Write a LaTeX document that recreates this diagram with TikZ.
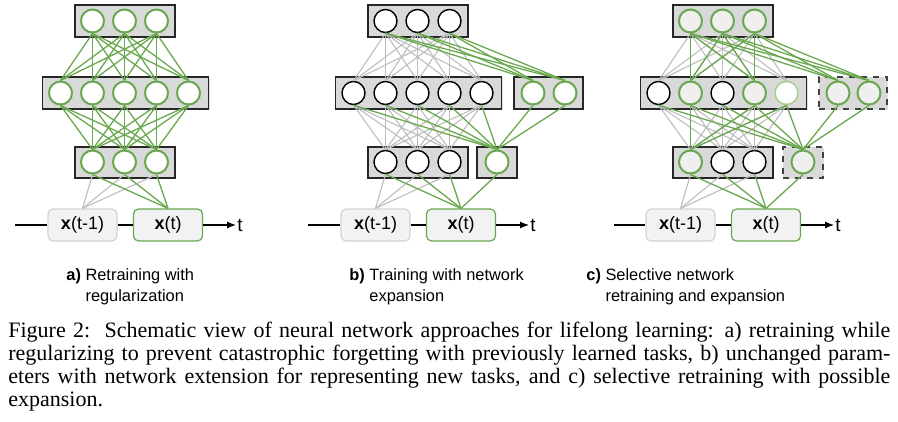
\documentclass[tikz,border=0pt]{standalone}
\usepackage{fontspec}
\setmainfont{Liberation Serif}
\newfontfamily\arialf{Liberation Sans}
\usetikzlibrary{arrows.meta,shadows}
\definecolor{grn}{HTML}{6AA84F}
\definecolor{lgrn}{HTML}{A9D18E}
\definecolor{boxgray}{HTML}{D9D9D9}
\definecolor{edgegray}{HTML}{BDBDBD}
\definecolor{infill}{HTML}{F2F2F2}
\definecolor{indraw}{HTML}{D4D4D4}
\definecolor{neufill}{HTML}{EFEFEF}
\begin{document}
\begin{tikzpicture}[x=0.5pt,y=-0.5pt,
  layerbox/.style={rectangle, draw=black!85, fill=boxgray, line width=0.6pt, inner sep=0pt,
    drop shadow={opacity=0.25, shadow xshift=0.7pt, shadow yshift=-0.7pt}},
  newbox/.style={layerbox, dashed, draw=black!75},
  neuron/.style={circle, minimum size=11.5pt, inner sep=0pt, fill=white},
  gneu/.style={neuron, draw=grn, line width=1pt},
  gneuf/.style={neuron, draw=grn, line width=1pt, fill=neufill},
  lneu/.style={neuron, draw=lgrn, line width=0.8pt},
  bneu/.style={neuron, draw=black, line width=0.7pt},
  gline/.style={draw=grn, line width=0.65pt},
  yline/.style={draw=edgegray, line width=0.55pt},
  inbox/.style={rectangle, rounded corners=2.5pt, minimum width=34.5pt, minimum height=16pt,
    fill=infill, draw=indraw, line width=0.6pt, font=\arialf\fontsize{9}{11}\selectfont, inner sep=0pt},
  tline/.style={draw=black, line width=0.6pt},
  tlab/.style={font=\arialf\fontsize{9.5}{11}\selectfont, inner sep=0.5pt, anchor=west},
  panlab/.style={font=\arialf\fontsize{8.2}{10.5}\selectfont, inner sep=0pt, anchor=north west}
]
\useasboundingbox (0,0) rectangle (898,422);

% ================= panel a =================
\begin{scope}
\node[layerbox, minimum width=50pt, minimum height=16pt] (a-topbox) at (125,21) {};
\node[layerbox, minimum width=83pt, minimum height=16pt] (a-midbox) at (125.5,93) {};
\node[layerbox, minimum width=50pt, minimum height=15.5pt] (a-botbox) at (125,162.5) {};
\foreach \i/\x in {1/92.5,2/124.5,3/156.5} {
  \node[gneu] (a-T\i) at (\x,21) {};
  \node[gneu] (a-B\i) at (\x,162) {};
}
\foreach \j in {1,...,5} \node[gneu] (a-M\j) at ({28.5+32*\j},93) {};
\node[inbox] (a-xp) at (82.5,225) {\textbf{x}(t-1)};
\node[inbox, draw=grn] (a-xc) at (168,225) {\textbf{x}(t)};
\coordinate (a-start) at (15,225);
\node[tlab] (a-t) at (236,225) {t};
\draw[tline] (a-start) -- (a-xp);
\draw[tline] (a-xp) -- (a-xc);
\draw[tline, -{Latex[length=4.5pt,width=3.5pt]}] (a-xc) -- (a-t);
\foreach \k in {1,2,3} \draw[yline] (a-xp.north) -- (a-B\k.south);
\foreach \k in {1,2,3} \draw[gline] (a-xc.north) -- (a-B\k.south);
\foreach \i in {1,2,3} \foreach \j in {1,...,5} {
  \draw[gline] (a-T\i.south) -- (a-M\j.north);
  \draw[gline] (a-M\j.south) -- (a-B\i.north);
}
\end{scope}

% ================= panel b =================
\begin{scope}[xshift=146.5pt]
\node[layerbox, minimum width=50pt, minimum height=16pt] (b-topbox) at (125,21) {};
\node[layerbox, minimum width=83pt, minimum height=16pt] (b-midbox) at (125.5,93) {};
\node[layerbox, minimum width=34.5pt, minimum height=16pt] (b-newmidbox) at (255.5,93) {};
\node[layerbox, minimum width=50pt, minimum height=15.5pt] (b-botbox) at (125,162.5) {};
\node[layerbox, minimum width=20pt, minimum height=15.5pt] (b-newbotbox) at (204,162.5) {};
\foreach \i/\x in {1/92.5,2/124.5,3/156.5} {
  \node[bneu] (b-T\i) at (\x,21) {};
  \node[bneu] (b-B\i) at (\x,162) {};
}
\foreach \j in {1,...,5} \node[bneu] (b-M\j) at ({28.5+32*\j},93) {};
\node[gneu] (b-N1) at (240,93) {};
\node[gneu] (b-N2) at (272,93) {};
\node[gneu] (b-NB) at (204,162) {};
\node[inbox] (b-xp) at (82.5,225) {\textbf{x}(t-1)};
\node[inbox, draw=grn] (b-xc) at (168,225) {\textbf{x}(t)};
\coordinate (b-start) at (15,225);
\node[tlab] (b-t) at (236,225) {t};
\draw[tline] (b-start) -- (b-xp);
\draw[tline] (b-xp) -- (b-xc);
\draw[tline, -{Latex[length=4.5pt,width=3.5pt]}] (b-xc) -- (b-t);
\foreach \i in {1,2,3} \foreach \j in {1,...,5} {
  \draw[yline] (b-T\i.south) -- (b-M\j.north);
  \draw[yline] (b-M\j.south) -- (b-B\i.north);
}
\foreach \k in {1,2,3} \draw[yline] (b-xp.north) -- (b-B\k.south);
\foreach \k in {1,2,3} \draw[gline] (b-xc.north) -- (b-B\k.south);
\draw[gline] (b-xc.north) -- (b-NB.south);
\foreach \i in {1,2,3} \foreach \n in {1,2} \draw[gline] (b-T\i.south) -- (b-N\n.north);
\foreach \j in {1,...,5} \draw[gline] (b-M\j.south) -- (b-NB.north);
\foreach \n in {1,2} \draw[gline] (b-N\n.south) -- (b-NB.north);
\end{scope}

% ================= panel c =================
\begin{scope}[xshift=299pt]
\node[layerbox, minimum width=50pt, minimum height=16pt] (c-topbox) at (125,21) {};
\node[layerbox, minimum width=83pt, minimum height=16pt] (c-midbox) at (125.5,93) {};
\node[newbox, minimum width=34pt, minimum height=16pt] (c-newmidbox) at (255,93) {};
\node[layerbox, minimum width=50pt, minimum height=15.5pt] (c-botbox) at (125,162.5) {};
\node[newbox, minimum width=20pt, minimum height=15.5pt] (c-newbotbox) at (205,162.5) {};
\foreach \i/\x in {1/92.5,2/124.5,3/156.5} \node[gneuf] (c-T\i) at (\x,21) {};
\node[gneuf] (c-B1) at (92.5,162) {};
\node[bneu] (c-B2) at (124.5,162) {};
\node[bneu] (c-B3) at (156.5,162) {};
\node[bneu] (c-M1) at (60.5,93) {};
\node[gneuf] (c-M2) at (92.5,93) {};
\node[bneu] (c-M3) at (124.5,93) {};
\node[gneuf] (c-M4) at (156.5,93) {};
\node[lneu] (c-M5) at (188.5,93) {};
\node[gneuf] (c-N1) at (240,93) {};
\node[gneuf] (c-N2) at (271,93) {};
\node[gneuf] (c-NB) at (205,162) {};
\node[inbox] (c-xp) at (82.5,225) {\textbf{x}(t-1)};
\node[inbox, draw=grn] (c-xc) at (168,225) {\textbf{x}(t)};
\coordinate (c-start) at (16,225);
\node[tlab] (c-t) at (236,225) {t};
\draw[tline] (c-start) -- (c-xp);
\draw[tline] (c-xp) -- (c-xc);
\draw[tline, -{Latex[length=4.5pt,width=3.5pt]}] (c-xc) -- (c-t);
\foreach \i in {1,2,3} \foreach \j in {1,...,5} {
  \draw[yline] (c-T\i.south) -- (c-M\j.north);
  \draw[yline] (c-M\j.south) -- (c-B\i.north);
}
\foreach \k in {1,2,3} \draw[yline] (c-xp.north) -- (c-B\k.south);
\foreach \k in {1,2,3} \draw[gline] (c-xc.north) -- (c-B\k.south);
\draw[gline] (c-xc.north) -- (c-NB.south);
\foreach \i in {1,2,3} {
  \draw[gline] (c-T\i.south) -- (c-M2.north);
  \draw[gline] (c-T\i.south) -- (c-M4.north);
  \foreach \n in {1,2} \draw[gline] (c-T\i.south) -- (c-N\n.north);
}
\foreach \j in {2,4,5} \draw[gline] (c-M\j.south) -- (c-B1.north);
\foreach \j in {1,...,5} \draw[gline] (c-M\j.south) -- (c-NB.north);
\foreach \n in {1,2} \draw[gline] (c-N\n.south) -- (c-NB.north);
\end{scope}

% ================= labels =================
\node[panlab] (lab-a) at (66,265) {\textbf{a)} \begin{tabular}[t]{@{}l@{}}Retraining with\\regularization\end{tabular}};
\node[panlab] (lab-b) at (349,265) {\textbf{b)} \begin{tabular}[t]{@{}l@{}}Training with network\\expansion\end{tabular}};
\node[panlab] (lab-c) at (586,265) {\textbf{c)} \begin{tabular}[t]{@{}l@{}}Selective network\\retraining and expansion\end{tabular}};

% ================= caption =================
\node[anchor=north west, text width=441pt, align=justify, inner sep=0pt,
  font=\fontsize{11}{11.4}\selectfont] (caption) at (8,322)
{Figure 2:\ \ Schematic view of neural network approaches for lifelong learning: a) retraining while\linebreak
regularizing to prevent catastrophic forgetting with previously learned tasks, b) unchanged param-\linebreak
eters with network extension for representing new tasks, and c) selective retraining with possible\linebreak
expansion.};
\end{tikzpicture}
\end{document}
